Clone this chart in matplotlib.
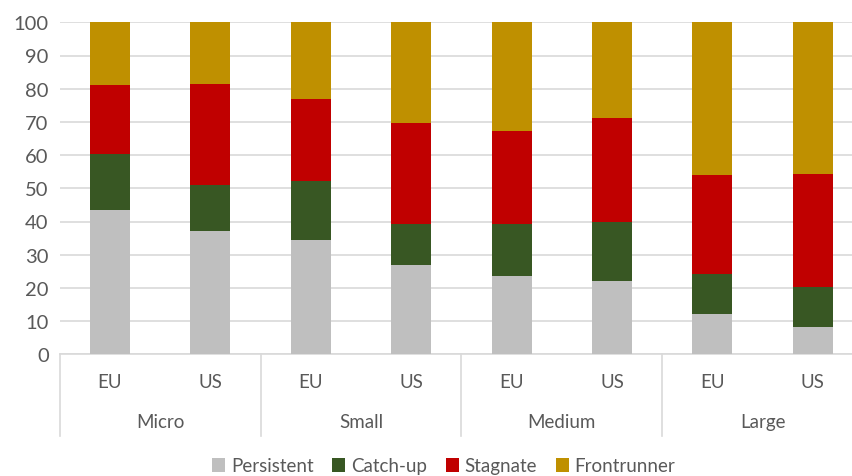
import matplotlib.pyplot as plt
import numpy as np

regions = ['EU', 'US', 'EU', 'US', 'EU', 'US', 'EU', 'US']
groups = ['Micro', 'Small', 'Medium', 'Large']

persistent = [43.5, 37.0, 34.3, 27.0, 23.6, 22.2, 12.0, 8.1]
catch_up = [16.7, 14.1, 17.9, 12.2, 15.7, 17.6, 12.3, 12.1]
stagnate = [20.9, 30.4, 24.8, 30.6, 28.0, 31.3, 29.6, 34.2]
frontrunner = [18.9, 18.5, 23.0, 30.2, 32.7, 28.9, 46.1, 45.6]

series = [('Persistent', persistent, '#BFBFBF'),
          ('Catch-up', catch_up, '#385723'),
          ('Stagnate', stagnate, '#C00000'),
          ('Frontrunner', frontrunner, '#BF9000')]

TEXT = '#595959'
GRID = '#D9D9D9'
FS = 13.5
plt.rcParams['font.family'] = ['Lato', 'DejaVu Sans']

fig = plt.figure(figsize=(8.53, 4.77), dpi=100)
W, H = 853, 477
left, right, top, bottom = 59.8, 863, 23.3, 355.3
ax = fig.add_axes([left / W, 1 - bottom / H, (right - left) / W, (bottom - top) / H])

x = np.arange(len(regions))
base = np.zeros(len(regions))
for name, vals, col in series:
    ax.bar(x, vals, 0.4, bottom=base, color=col, label=name, zorder=3)
    base += np.array(vals)

ax.set_xlim(-0.5, 7.5)
ax.set_ylim(0, 100)
ax.set_yticks(range(0, 101, 10))
ax.yaxis.grid(True, color=GRID, linewidth=1.2, zorder=0)
ax.set_axisbelow(True)
for s in ['top', 'right', 'left']:
    ax.spines[s].set_visible(False)
ax.spines['bottom'].set_color(GRID)
ax.spines['bottom'].set_linewidth(1.2)
ax.tick_params(axis='y', length=0, pad=8, labelsize=14.5, labelcolor=TEXT)
ax.set_xticks([])

# two-level category axis
trans = ax.get_xaxis_transform()
depth = (437 - bottom) / (bottom - top)
for xs in [-0.5, 1.5, 3.5, 5.5, 7.5]:
    ax.plot([xs, xs], [0, -depth], transform=trans, color=GRID, lw=1.2, clip_on=False)
for i, r in enumerate(regions):
    ax.text(i, -(383 - bottom) / (bottom - top), r, transform=trans, ha='center', va='center',
            fontsize=FS, color=TEXT)
for g, name in enumerate(groups):
    ax.text(2 * g + 0.5, -(423 - bottom) / (bottom - top), name, transform=trans, ha='center',
            va='center', fontsize=FS, color=TEXT)

fig.legend(loc='center', bbox_to_anchor=(0.52, 1 - 467 / H), ncol=4, frameon=False,
           fontsize=FS, labelcolor=TEXT, handlelength=0.7, handleheight=0.7,
           handletextpad=0.3, columnspacing=1.0)

fig.savefig('out.png', dpi=100)
